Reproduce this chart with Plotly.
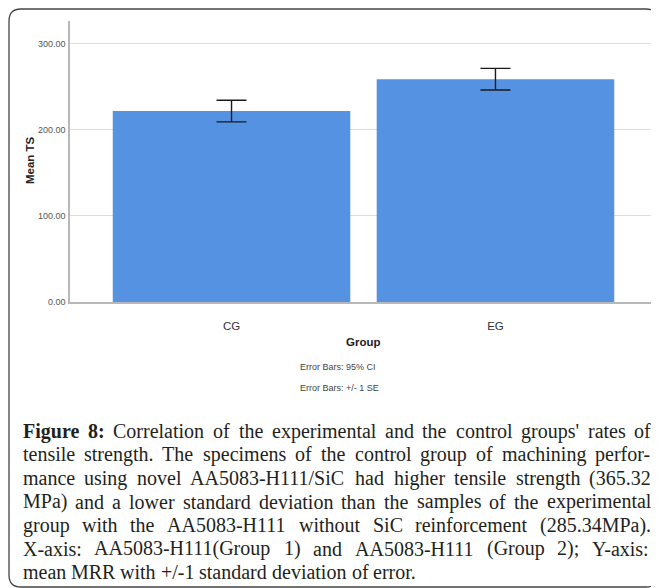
import plotly.graph_objects as go

# ---- data ----
groups = ["CG", "EG"]
mean_ts = [222.0, 259.0]
se_ts = [12.6, 12.6]
y_ticks = [0, 100, 200, 300]
y_tick_labels = ["0.00", "100.00", "200.00", "300.00"]

caption_lines = [
    "Figure 8: Correlation of the experimental and the control groups' rates of",
    "tensile strength. The specimens of the control group of machining perfor-",
    "mance using novel AA5083-H111/SiC had higher tensile strength (365.32",
    "MPa) and a lower standard deviation than the samples of the experimental",
    "group with the AA5083-H111 without SiC reinforcement (285.34MPa).",
    "X-axis: AA5083-H111(Group 1) and AA5083-H111 (Group 2); Y-axis:",
    "mean MRR with +/-1 standard deviation of error.",
]

OFF = 8  # page body margin
W, H = 659 - OFF, 588 - OFF
L, R, T, B = 70 - OFF, 657 - OFF, 21 - OFF, 302 - OFF  # plot area in figure pixels


def px(x):
    return (x - OFF - L) / (R - L)


def py(y):
    return (B - (y - OFF)) / (B - T)


fig = go.Figure()
fig.add_trace(go.Bar(
    x=[0, 1], y=mean_ts, width=0.9,
    marker=dict(color="#5593E2", line=dict(width=0)),
    error_y=dict(type="data", array=se_ts, visible=True, color="#1a1a1a",
                 thickness=1.4, width=15),
    hoverinfo="skip",
))

fig.update_layout(
    width=W, height=H,
    margin=dict(l=L, r=W - R, t=T, b=H - B),
    paper_bgcolor="white", plot_bgcolor="white",
    showlegend=False, bargap=0.1,
    font=dict(family="Liberation Sans, Arial, sans-serif"),
)
fig.update_xaxes(
    range=[-0.612, 1.612], tickvals=[0, 1], ticktext=groups,
    showgrid=False, showline=True, linecolor="#b8b8b8", linewidth=1.5,
    ticks="", tickfont=dict(size=11.5, color="#333"), ticklabelstandoff=12,
    zeroline=False,
)
fig.update_yaxes(
    range=[0, 326.7], tickvals=y_ticks, ticktext=y_tick_labels,
    showgrid=True, gridcolor="#dcdcdc", gridwidth=1.2,
    showline=True, linecolor="#b8b8b8", linewidth=1.5,
    ticks="", tickfont=dict(size=9, color="#555"), ticklabelstandoff=1,
    zeroline=False,
)

ann = []
ann.append(dict(text="<b>Mean TS</b>", x=px(30), y=py(160), xref="paper", yref="paper",
                xanchor="center", yanchor="middle",
                textangle=-90, showarrow=False, font=dict(size=11.5, color="#222")))
ann.append(dict(text="<b>Group</b>", x=px(363.5), y=py(342), xref="paper", yref="paper",
                xanchor="center", yanchor="middle",
                showarrow=False, font=dict(size=11.5, color="#222")))
ann.append(dict(text="Error Bars: 95% CI", x=px(298), y=py(367), xref="paper", yref="paper",
                xanchor="left", yanchor="middle", showarrow=False, font=dict(size=9, color="#444")))
ann.append(dict(text="Error Bars: +/- 1 SE", x=px(298), y=py(388), xref="paper", yref="paper",
                xanchor="left", yanchor="middle", showarrow=False, font=dict(size=9, color="#444")))

# ---- justified caption (Times/Liberation Serif advance widths, 1/1000 em) ----
REG = {
    'a': 444, 'b': 500, 'c': 444, 'd': 500, 'e': 444, 'f': 333, 'g': 500, 'h': 500,
    'i': 278, 'j': 278, 'k': 500, 'l': 278, 'm': 778, 'n': 500, 'o': 500, 'p': 500,
    'q': 500, 'r': 333, 's': 389, 't': 278, 'u': 500, 'v': 500, 'w': 722, 'x': 500,
    'y': 500, 'z': 444,
    'A': 722, 'B': 667, 'C': 667, 'D': 722, 'E': 611, 'F': 556, 'G': 722, 'H': 722,
    'I': 333, 'J': 389, 'K': 722, 'L': 611, 'M': 889, 'N': 722, 'O': 722, 'P': 556,
    'Q': 722, 'R': 667, 'S': 556, 'T': 611, 'U': 722, 'V': 722, 'W': 944, 'X': 722,
    'Y': 722, 'Z': 611,
    '0': 500, '1': 500, '2': 500, '3': 500, '4': 500, '5': 500, '6': 500, '7': 500,
    '8': 500, '9': 500, ' ': 250, '.': 250, ',': 250, ':': 278, ';': 278, '-': 333,
    '(': 333, ')': 333, '/': 278, '+': 564, "'": 180,
}
BOLD = {'F': 611, 'i': 278, 'g': 500, 'u': 556, 'r': 444, 'e': 444, '8': 500, ':': 333}

CAP_SIZE = 20
CAP_LEFT, CAP_RIGHT = 21.5, 650
CAP_TOP, CAP_STEP = 431, 23.5


def word_width(w, bold):
    tab = BOLD if bold else REG
    return sum(tab.get(c, REG.get(c, 500)) for c in w) * CAP_SIZE / 1000.0


for i, line in enumerate(caption_lines):
    words = [(w, i == 0 and j < 2) for j, w in enumerate(line.split(" "))]
    widths = [word_width(w, b) for w, b in words]
    justify = i < len(caption_lines) - 1
    if justify and len(words) > 1:
        gap = (CAP_RIGHT - CAP_LEFT - sum(widths)) / (len(words) - 1)
    else:
        gap = 250 * CAP_SIZE / 1000.0
    x = CAP_LEFT
    for (w, b), wd in zip(words, widths):
        ann.append(dict(text=f"<b>{w}</b>" if b else w, x=px(x), y=py(CAP_TOP + CAP_STEP * i),
                        xref="paper", yref="paper", xanchor="left", yanchor="middle",
                        showarrow=False, borderpad=0,
                        font=dict(family="Liberation Serif, Times New Roman, serif",
                                  size=CAP_SIZE, color="#231f20")))
        x += wd + gap
fig.update_layout(annotations=ann)

# rounded border box
x0, y0, x1, y1, r = 9, 9, 658, 587, 12
X0, X1 = px(x0), px(x1)
Y0, Y1 = py(y0), py(y1)
rx = r / (R - L)
ry = r / (B - T)
path = (f"M {X0+rx},{Y0} L {X1-rx},{Y0} Q {X1},{Y0} {X1},{Y0-ry} "
        f"L {X1},{Y1+ry} Q {X1},{Y1} {X1-rx},{Y1} "
        f"L {X0+rx},{Y1} Q {X0},{Y1} {X0},{Y1+ry} "
        f"L {X0},{Y0-ry} Q {X0},{Y0} {X0+rx},{Y0} Z")
fig.add_shape(type="path", path=path, xref="paper", yref="paper",
              line=dict(color="#444", width=1.3), layer="above")

fig.write_html("out.html")
